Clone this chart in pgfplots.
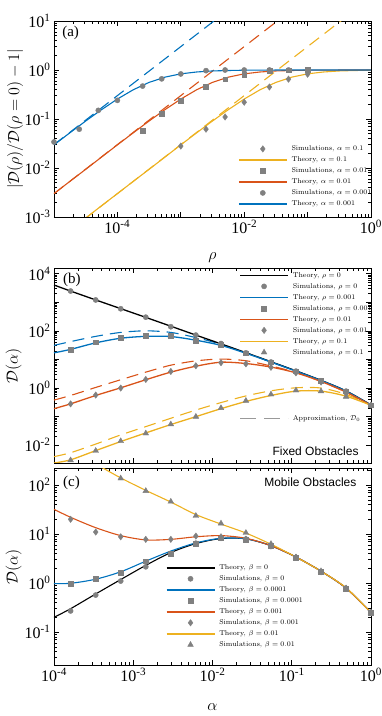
\RequirePackage{fix-cm}
\documentclass[border=0pt]{standalone}
\usepackage{fontspec}
\newfontfamily\timesfont{Liberation Serif}
\newfontfamily\helv{Liberation Sans}
\usepackage{pgfplots}
\pgfplotsset{compat=1.18}
\definecolor{mblue}{rgb}{0,0.447,0.741}
\definecolor{morange}{rgb}{0.851,0.325,0.098}
\definecolor{myellow}{rgb}{0.929,0.694,0.125}
\definecolor{simgray}{gray}{0.5}

\newcommand{\tl}[1]{10\textsuperscript{#1}}

\pgfplotsset{
  keybox/.style={
    legend style={draw=none, fill=none, font=\fontsize{7}{8}\selectfont,
      anchor=north west, inner sep=0pt, column sep=3pt, row sep=2.5pt,
      nodes={inner sep=1pt, text height=5pt, text depth=1.5pt}},
    legend cell align=left,
    legend image code/.code={\draw[mark repeat=2,mark phase=2,##1]
      plot coordinates {(0pt,0pt)(24pt,0pt)(48pt,0pt)};},
  },
  panelbox/.style={scale only axis, width=317pt, anchor=south west,
    axis line style={line width=0.9pt}, tick style={black, line width=0.6pt},
    major tick length=5pt, minor tick length=2.8pt,
    tick label style={font=\timesfont\fontsize{16}{16}\selectfont},
    label style={font=\fontsize{16}{16}\selectfont},
    keybox,
  },
  thline/.style={line width=1.1pt, no marks},
  thkey/.style={line width=1.3pt, no marks, sharp plot},
  legline/.style={line width=1.5pt, no marks},
  apline/.style={line width=1.1pt, no marks, dash pattern=on 12pt off 7pt},
  simc/.style={only marks, mark=*, mark size=2.6pt, simgray, mark options={fill=simgray, draw=simgray}},
  sims/.style={only marks, mark=square*, mark size=2.4pt, simgray, mark options={fill=simgray, draw=simgray}},
  simd/.style={only marks, mark=diamond*, mark size=3.2pt, simgray, mark options={fill=simgray, draw=simgray}},
  simt/.style={only marks, mark=triangle*, mark size=3.3pt, simgray, mark options={fill=simgray, draw=simgray}},
}

% panel (a): theory vs rho, columns alpha = 0.001, 0.01, 0.1
\pgfplotstableread{
r        t1     t2      t3
1e-5     0.0297 0.0030  0.0003
1.778e-5 0.0522 0.00533 0.00054
3.162e-5 0.091  0.0094  0.00095
5.623e-5 0.155  0.0167  0.0017
1e-4     0.2555 0.0297  0.0030
1.778e-4 0.395  0.0522  0.00533
3.162e-4 0.559  0.091   0.0094
5.623e-4 0.715  0.155   0.0167
1e-3     0.835  0.2555  0.0297
1.778e-3 0.911  0.395   0.0522
3.162e-3 0.956  0.559   0.091
5.623e-3 0.977  0.715   0.155
1e-2     0.990  0.835   0.2555
1.778e-2 0.995  0.911   0.395
3.162e-2 0.998  0.956   0.559
5.623e-2 0.999  0.977   0.715
1e-1     1.0    0.990   0.835
1.778e-1 1.0    0.995   0.911
3.162e-1 1.0    0.998   0.956
5.623e-1 1.0    0.999   0.977
1        1.0    1.0     0.990
}\tablea

% panel (b): theory (th) and approximation (ap), rho = 0, 0.001, 0.01, 0.1
\pgfplotstableread{
a        th0   th1   th2   th3    ap1   ap2   ap3
1e-4     3981  17    0.19  0.0024 31    0.38  0.0040
1.62e-4  2455  22.5  0.28  0.0031 42    0.55  0.0055
3.36e-4  1202  38    0.55  0.0065 64    1.05  0.011
6.95e-4  596   55    1.02  0.0135 88    1.95  0.023
1.44e-3  295   64    1.95  0.027  100   3.6   0.045
2.98e-3  145   63    3.6   0.053  88    6.3   0.088
6.17e-3  71    47    5.8   0.10   58    8.9   0.17
1.28e-2  35    31    8.0   0.19   34    10.3  0.31
2.64e-2  17.2  16.5  7.2   0.34   17    9.0   0.53
5.47e-2  8.3   8.1   5.4   0.55   8.2   5.9   0.80
0.113    4.0   3.9   3.4   0.78   3.9   3.5   1.02
0.234    1.86  1.83  1.7   0.78   1.83  1.7   1.0
0.485    0.79  0.78  0.72  0.52   0.78  0.72  0.6
1        0.257 0.25  0.25  0.25   0.25  0.25  0.25
}\tableb

\pgfplotstableread{
a        s0    s1    s2    s3
1.62e-4  2460  22    0.28  0.0030
3.36e-4  1200  40    0.57  0.0064
6.95e-4  590   59    1.0   0.014
1.44e-3  300   67    2.0   0.026
2.98e-3  139   66    3.8   0.054
6.17e-3  71    44    6.0   0.10
1.28e-2  36    32    7.7   0.20
2.64e-2  17    16.5  7.0   0.36
5.47e-2  8.1   8.0   5.3   0.60
0.113    3.9   3.9   3.4   0.83
0.234    1.8   1.8   1.62  0.77
0.485    0.78  0.78  0.65  0.50
1        0.25  0.25  0.25  0.25
}\simb

% panel (c): beta = 0, 0.0001, 0.001, 0.01
\pgfplotstableread{
a        th0   th1   th2   th3
1e-4     0.20  0.98  32    850
1.62e-4  0.30  0.99  22    530
3.36e-4  0.60  1.2   13.5  270
6.95e-4  1.18  1.7   9.3   140
1.44e-3  2.3   2.8   7.6   78
2.98e-3  4.2   4.5   7.8   45
6.17e-3  6.4   6.6   8.8   25
1.28e-2  8.1   8.2   9.3   16
2.64e-2  8.0   8.0   8.2   10.5
5.47e-2  5.8   5.8   5.8   6.2
0.113    3.4   3.4   3.4   3.4
0.234    1.75  1.75  1.75  1.75
0.485    0.79  0.79  0.79  0.8
1        0.25  0.25  0.25  0.25
}\tablec

\pgfplotstableread{
a        s0    s1    s2    s3
1.62e-4  0.27  0.97  20    500
3.36e-4  0.57  1.22  11    260
6.95e-4  1.1   1.65  8.8   137
1.44e-3  2.15  2.8   7.8   76
2.98e-3  4.0   4.0   7.8   46
6.17e-3  6.5   6.3   9.1   23.6
1.28e-2  8.2   8.2   8.8   16.5
2.64e-2  7.9   7.8   7.9   10.6
5.47e-2  5.7   5.7   5.7   6.3
0.113    3.35  3.35  3.35  3.35
0.234    1.7   1.7   1.7   1.75
0.485    0.78  0.78  0.78  0.78
1        0.25  0.25  0.25  0.25
}\simcdata

\begin{document}
\begin{tikzpicture}
\useasboundingbox (0,0) rectangle (382pt,716pt);

% ---------------- (a)
\begin{loglogaxis}[panelbox, at={(54pt,499pt)}, height=196pt,
  xmin=1e-5, xmax=1, ymin=1e-3, ymax=10,
  xtick={1e-5,1e-4,1e-3,1e-2,1e-1,1},
  xticklabels={,\tl{-4},,\tl{-2},,\tl{0}},
  ytick={1e-3,1e-2,1e-1,1,10},
  yticklabels={\tl{-3},\tl{-2},\tl{-1},\tl{0},\tl{1}},
  xlabel={$\rho$}, ylabel={$|\mathcal{D}(\rho)/\mathcal{D}(\rho=0)-1|$},
  xlabel style={at={(axis description cs:0.5,-0.209)}, anchor=center},
  ylabel style={at={(axis description cs:-0.123,0.5)}, anchor=center},
  legend style={at={(0.58,0.37)}}]
\addlegendimage{simd}\addlegendentry{Simulations, $\alpha=0.1$}
\addlegendimage{legline, myellow}\addlegendentry{Theory, $\alpha=0.1$}
\addlegendimage{sims}\addlegendentry{Simulations, $\alpha=0.01$}
\addlegendimage{legline, morange}\addlegendentry{Theory, $\alpha=0.01$}
\addlegendimage{simc}\addlegendentry{Simulations, $\alpha=0.001$}
\addlegendimage{legline, mblue}\addlegendentry{Theory, $\alpha=0.001$}

\addplot[apline, mblue, forget plot] coordinates {(1e-5,0.03) (1e-2,30)};
\addplot[apline, morange, forget plot] coordinates {(1e-5,0.003) (1e-1,30)};
\addplot[apline, myellow, forget plot] coordinates {(1e-5,0.0003) (1,30)};
\addplot[thline, myellow, forget plot] table[x=r, y=t3] {\tablea};
\addplot[thline, morange, forget plot] table[x=r, y=t2] {\tablea};
\addplot[thline, mblue, forget plot] table[x=r, y=t1] {\tablea};

\addplot[simd, forget plot] coordinates {(1e-3,0.028) (2.5e-3,0.062) (5e-3,0.11)
  (1e-2,0.22) (2.5e-2,0.45) (5e-2,0.65) (0.1,0.82)};
\addplot[sims, forget plot] coordinates {(2.5e-4,0.057) (5e-4,0.13) (1e-3,0.235)
  (2.5e-3,0.46) (5e-3,0.65) (1e-2,0.81) (2.5e-2,0.97) (5e-2,0.99) (0.1,1.0)};
\addplot[simc, forget plot] coordinates {(1e-5,0.034) (2.5e-5,0.062) (5e-5,0.15)
  (1e-4,0.24) (2.5e-4,0.47) (5e-4,0.66) (1e-3,0.83) (2.5e-3,0.97) (5e-3,1.0)
  (1e-2,1.0) (2.5e-2,1.0) (5e-2,1.0) (0.1,1.0)};
\node[anchor=west, font=\timesfont\fontsize{15}{15}\selectfont] at (rel axis cs:0.015,0.939) {(a)};
\end{loglogaxis}

% ---------------- (b)
\begin{loglogaxis}[panelbox, at={(54pt,253pt)}, height=195pt,
  xmin=1e-4, xmax=1, ymin=2.4e-3, ymax=1.57e4,
  xtick={1e-4,1e-3,1e-2,1e-1,1}, xticklabel=\empty,
  ytick={1e-2,1e-1,1,10,100,1e3,1e4},
  yticklabels={\tl{-2},,\tl{0},,\tl{2},,\tl{4}},
  ylabel={$\mathcal{D}(\alpha)$},
  ylabel style={at={(axis description cs:-0.127,0.5)}, anchor=center},
  legend style={at={(0.584,0.985)}}]
\addplot[apline, mblue, smooth, forget plot] table[x=a, y=ap1] {\tableb};
\addplot[apline, morange, smooth, forget plot] table[x=a, y=ap2] {\tableb};
\addplot[apline, myellow, smooth, forget plot] table[x=a, y=ap3] {\tableb};

\addplot[thkey, black, smooth] table[x=a, y=th0] {\tableb};
\addlegendentry{Theory, $\rho=0$}
\addplot[simc] table[x=a, y=s0] {\simb};
\addlegendentry{Simulations, $\rho=0$}
\addplot[thkey, mblue, smooth] table[x=a, y=th1] {\tableb};
\addlegendentry{Theory, $\rho=0.001$}
\addplot[sims] table[x=a, y=s1] {\simb};
\addlegendentry{Simulations, $\rho=0.001$}
\addplot[thkey, morange, smooth] table[x=a, y=th2] {\tableb};
\addlegendentry{Theory, $\rho=0.01$}
\addplot[simd] table[x=a, y=s2] {\simb};
\addlegendentry{Simulations, $\rho=0.01$}
\addplot[thkey, myellow, smooth] table[x=a, y=th3] {\tableb};
\addlegendentry{Theory, $\rho=0.1$}
\addplot[simt] table[x=a, y=s3] {\simb};
\addlegendentry{Simulations, $\rho=0.1$}
\addlegendimage{empty legend}\addlegendentry{}
\addlegendimage{empty legend}\addlegendentry{}
\addlegendimage{empty legend}\addlegendentry{}
\addlegendimage{empty legend}\addlegendentry{}
\addlegendimage{empty legend}\addlegendentry{}
\addlegendimage{legline, simgray!80, dash pattern=on 16pt off 8pt}\addlegendentry{Approximation, $\mathcal{D}_0$}
\node[anchor=west, font=\timesfont\fontsize{15}{15}\selectfont] at (rel axis cs:0.018,0.938) {(b)};
\node[anchor=east, font=\helv\fontsize{12}{12}\selectfont] at (rel axis cs:0.972,0.063) {Fixed Obstacles};
\end{loglogaxis}

% ---------------- (c)
\begin{loglogaxis}[panelbox, at={(54pt,51pt)}, height=197pt,
  xmin=1e-4, xmax=1, ymin=0.0213, ymax=223,
  xtick={1e-4,1e-3,1e-2,1e-1,1},
  xticklabels={\tl{-4},\tl{-3},\tl{-2},\tl{-1},\tl{0}},
  ytick={1e-2,1e-1,1,10,100,1e3},
  yticklabels={,\tl{-1},\tl{0},\tl{1},\tl{2},},
  xlabel={$\alpha$}, ylabel={$\mathcal{D}(\alpha)$},
  xlabel style={at={(axis description cs:0.5,-0.213)}, anchor=center},
  ylabel style={at={(axis description cs:-0.127,0.5)}, anchor=center},
  legend style={at={(0.352,0.516)}}]
\addlegendimage{legline, black}\addlegendentry{Theory, $\beta=0$}
\addlegendimage{simc}\addlegendentry{Simulations, $\beta=0$}
\addlegendimage{legline, mblue}\addlegendentry{Theory, $\beta=0.0001$}
\addlegendimage{sims}\addlegendentry{Simulations, $\beta=0.0001$}
\addlegendimage{legline, morange}\addlegendentry{Theory, $\beta=0.001$}
\addlegendimage{simd}\addlegendentry{Simulations, $\beta=0.001$}
\addlegendimage{legline, myellow}\addlegendentry{Theory, $\beta=0.01$}
\addlegendimage{simt}\addlegendentry{Simulations, $\beta=0.01$}

\addplot[thline, black, smooth, forget plot] table[x=a, y=th0] {\tablec};
\addplot[thline, mblue, smooth, forget plot] table[x=a, y=th1] {\tablec};
\addplot[thline, morange, smooth, forget plot] table[x=a, y=th2] {\tablec};
\addplot[thline, myellow, smooth, forget plot] table[x=a, y=th3] {\tablec};

\addplot[simc, forget plot] table[x=a, y=s0] {\simcdata};
\addplot[sims, forget plot] table[x=a, y=s1] {\simcdata};
\addplot[simd, forget plot] table[x=a, y=s2] {\simcdata};
\addplot[simt, forget plot] table[x=a, y=s3] {\simcdata};
\node[anchor=west, font=\timesfont\fontsize{15}{15}\selectfont] at (rel axis cs:0.018,0.924) {(c)};
\node[anchor=east, font=\helv\fontsize{12}{12}\selectfont] at (rel axis cs:0.965,0.929) {Mobile Obstacles};
\end{loglogaxis}
\end{tikzpicture}
\end{document}
